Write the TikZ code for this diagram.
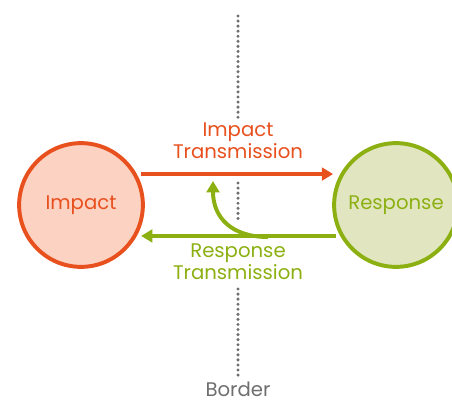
\documentclass[tikz,border=0pt]{standalone}
\usepackage{fontspec}
\setmainfont{Poppins}
\usetikzlibrary{arrows.meta}

\definecolor{impactred}{HTML}{E8501E}
\definecolor{impactfill}{HTML}{FCD2C2}
\definecolor{respgreen}{HTML}{8CB012}
\definecolor{respfill}{HTML}{E2E6C0}
\definecolor{bordergray}{HTML}{6E6E70}

\tikzset{
  blob/.style={circle, line width=2.8pt, minimum size=88pt, inner sep=0pt},
  flow/.style={line width=2.8pt, -{Triangle[length=8pt, width=9pt]}},
  dots/.style={bordergray, line width=2.4pt, line cap=round, dash pattern=on 0pt off 3.6pt},
  caption/.style={font=\fontsize{14}{15.5}\selectfont, align=center, inner sep=0pt}
}

\begin{document}
\begin{tikzpicture}[x=0.025cm, y=-0.025cm]
		\useasboundingbox (0,0) rectangle (452,401);
		% circles
		\node[blob, draw=impactred, fill=impactfill, text=impactred, caption] (impact) at (81,205) {Impact};
		\node[blob, draw=respgreen, fill=respfill, text=respgreen, caption] (response) at (396,205) {Response};
		% border line
		\coordinate (b1) at (238,16);
		\coordinate (b2) at (238,118);
		\coordinate (b3) at (238,183);
		\coordinate (b4) at (238,220);
		\coordinate (b5) at (238,289);
		\coordinate (b6) at (238,376);
		\draw[dots] (b1) -- (b2);
		\draw[dots] (b3) -- (b4);
		\draw[dots] (b5) -- (b6);
		\node[caption, text=bordergray] (border) at (238,389) {Border};
		% transmissions
		\draw[flow, impactred, shorten <=3pt, shorten >=5pt] (impact.29) -- (response.151);
		\node[caption, text=impactred] (impactlbl) at (238,141) {Impact\\Transmission};
		\draw[flow, respgreen, shorten <=3pt, shorten >=3pt] (response.209) -- (impact.-29);
		\node[caption, text=respgreen] (resplbl) at (238,262) {Response\\Transmission};
		% feedback
		\coordinate (kickoff) at (268,237);
		\coordinate (kick) at (213,181);
		\draw[flow, respgreen] (kickoff) .. controls (232,237) and (213,218) .. (kick);
\end{tikzpicture}
\end{document}
